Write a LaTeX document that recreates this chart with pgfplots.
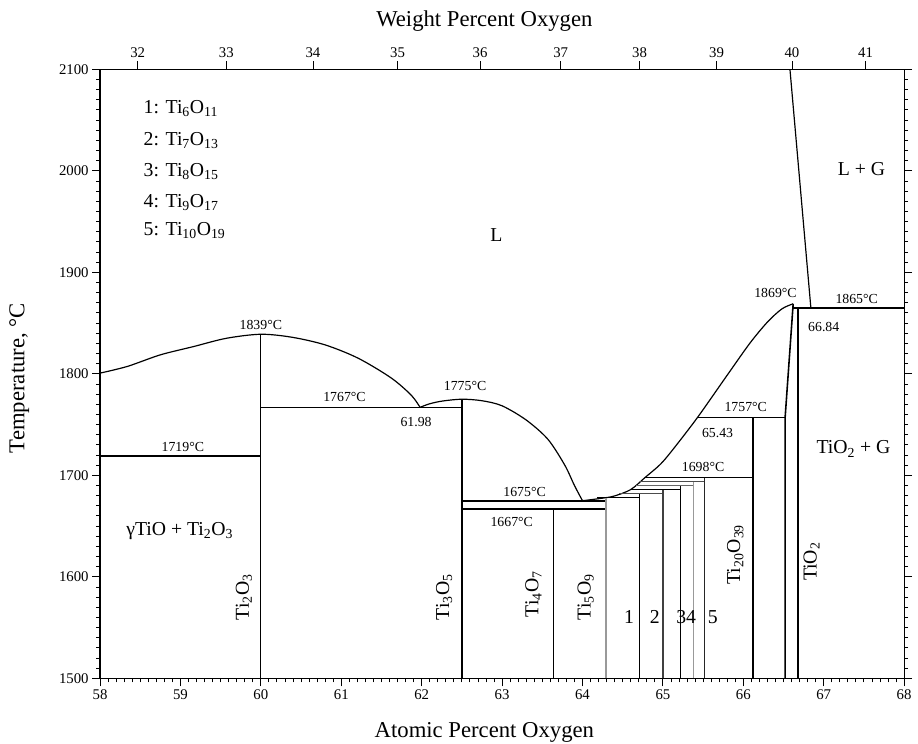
\documentclass[border=0pt]{standalone}
\usepackage{pgfplots}
\pgfplotsset{compat=1.18}
\usepackage{fontspec}
\setmainfont{Liberation Serif}

\newcommand{\lab}{\fontsize{14}{14}\selectfont}
\newcommand{\fld}{\fontsize{20}{20}\selectfont}

\begin{document}
\begin{tikzpicture}
\begin{axis}[
  name=main,
  scale only axis, width=812bp, height=615bp,
  xmin=58, xmax=68, ymin=1500, ymax=2100,
  xtick={58,59,...,68}, ytick={1500,1600,...,2100},
  minor x tick num=9, minor y tick num=9,
  xtick pos=left, ytick pos=both, yticklabel pos=left,
  tick align=outside,
  major tick length=8bp, minor tick length=4bp,
  axis line style={line width=1.3bp},
  every tick/.style={black, line width=0.9bp},
  tick label style={font=\fontsize{15}{15}\selectfont},
  /pgf/number format/assume math mode=true,
  /pgf/number format/1000 sep={},
  xlabel={Atomic Percent Oxygen},
  ylabel={Temperature, °C},
  every axis x label/.style={at={(rel axis cs:0.478,0)}, anchor=base, yshift=-60bp, font=\fontsize{23}{23}\selectfont},
  every axis y label/.style={at={(rel axis cs:0,0.493)}, xshift=-68bp, rotate=90, anchor=south, font=\fontsize{23}{23}\selectfont},
  cycle list={{black, solid, mark=none}},
  every axis plot/.append style={line width=1.2bp},
]
% liquidus, Ti2O3 side
\addplot+[smooth] coordinates {(58,1800.7) (58.34,1807.3) (58.75,1818.7) (59.16,1826.8) (59.57,1835) (60,1839) (60.39,1836) (60.8,1828.5) (61.21,1815.4) (61.62,1796) (61.87,1779) (61.98,1767)};
% liquidus over Ti3O5
\addplot+[smooth] coordinates {(61.98,1767) (62.1,1770.5) (62.26,1773.2) (62.5,1775) (62.75,1773.5) (63.0,1768.5) (63.3,1754.5) (63.57,1735.5) (63.78,1710) (63.9,1690) (64.0,1675)};
% liquidus, TiO2 side
\addplot+[smooth] coordinates {(64.0,1675) (64.2,1677) (64.39,1679.5) (64.6,1686) (64.78,1698) (64.97,1711) (65.13,1726) (65.43,1757) (65.79,1797.6) (66.08,1830) (66.3,1851) (66.48,1864) (66.62,1869)};
% L / L+G boundary
\addplot coordinates {(66.58,2100) (66.84,1865)};
% invariant lines
\addplot[line width=2.6bp] coordinates {(58,1719) (60,1719)};
\addplot coordinates {(60,1500) (60,1839)};
\addplot coordinates {(60,1767) (62.5,1767)};
\addplot[line width=2.2bp] coordinates {(62.5,1500) (62.5,1775)};
\addplot[line width=2.2bp] coordinates {(62.5,1675) (64.29,1675)};
\addplot[line width=2.2bp] coordinates {(62.5,1667) (64.29,1667)};
\addplot coordinates {(63.64,1500) (63.64,1667)};
% Magneli phases Ti5O9 ... Ti10O19
\addplot[black!40, line width=2bp] coordinates {(64.29,1500) (64.29,1678)};
\addplot coordinates {(64.18,1678) (64.71,1678)};
\addplot[line width=1.8bp] coordinates {(64.71,1500) (64.71,1682)};
\addplot[black!70] coordinates {(64.46,1682) (65.0,1682)};
\addplot[black!75] coordinates {(65.0,1500) (65.0,1686)};
\addplot coordinates {(64.6,1686) (65.22,1686)};
\addplot[line width=1.8bp] coordinates {(65.22,1500) (65.22,1690)};
\addplot[black!60] coordinates {(64.66,1690) (65.38,1690)};
\addplot[black!40] coordinates {(65.38,1500) (65.38,1694)};
\addplot[black!70] coordinates {(64.72,1694) (65.52,1694)};
\addplot[black!85] coordinates {(65.52,1500) (65.52,1698)};
\addplot coordinates {(64.78,1698) (66.12,1698)};
% Ti20O39 and TiO2
\addplot coordinates {(66.12,1500) (66.12,1757)};
\addplot coordinates {(65.43,1757) (66.52,1757)};
\addplot[line width=1.6bp] coordinates {(66.52,1500) (66.52,1757) (66.62,1869)};
\addplot coordinates {(66.68,1500) (66.68,1865)};
\addplot[line width=2.4bp] coordinates {(66.62,1865) (68,1865)};

% temperatures and compositions
\node[font=\lab] at (axis cs:60.0,1848) {1839°C};
\node[font=\lab] at (axis cs:61.04,1777) {1767°C};
\node[font=\lab] at (axis cs:61.93,1753) {61.98};
\node[font=\lab] at (axis cs:62.54,1788) {1775°C};
\node[font=\lab] at (axis cs:59.03,1728) {1719°C};
\node[font=\lab] at (axis cs:63.28,1684) {1675°C};
\node[font=\lab] at (axis cs:63.12,1654) {1667°C};
\node[font=\lab] at (axis cs:65.5,1708) {1698°C};
\node[font=\lab] at (axis cs:66.03,1767) {1757°C};
\node[font=\lab] at (axis cs:65.68,1742) {65.43};
\node[font=\lab] at (axis cs:66.40,1880) {1869°C};
\node[font=\lab] at (axis cs:67.41,1874) {1865°C};
\node[font=\lab] at (axis cs:67.0,1846) {66.84};
% phase fields
\node[font=\fld] at (axis cs:62.93,1937) {L};
\node[font=\fld] at (axis cs:67.47,2002) {L + G};
\node[font=\fld] at (axis cs:67.37,1726) {TiO\textsubscript{2} + G};
\node[font=\fld] at (axis cs:58.99,1645) {γTiO + Ti\textsubscript{2}O\textsubscript{3}};
\node[font=\fld, rotate=90] at (axis cs:59.79,1580) {Ti\textsubscript{2}O\textsubscript{3}};
\node[font=\fld, rotate=90] at (axis cs:62.28,1580) {Ti\textsubscript{3}O\textsubscript{5}};
\node[font=\fld, rotate=90] at (axis cs:63.39,1583) {Ti\textsubscript{4}O\textsubscript{7}};
\node[font=\fld, rotate=90] at (axis cs:64.04,1580) {Ti\textsubscript{5}O\textsubscript{9}};
\node[font=\fld, rotate=90] at (axis cs:65.9,1622) {Ti\textsubscript{20}O\textsubscript{39}};
\node[font=\fld, rotate=90] at (axis cs:66.85,1615) {TiO\textsubscript{2}};
\node[font=\fld] at (axis cs:64.58,1560) {1};
\node[font=\fld] at (axis cs:64.90,1560) {2};
\node[font=\fld] at (axis cs:65.29,1560) {34};
\node[font=\fld] at (axis cs:65.62,1560) {5};
% key to the numbered phases
\node[font=\fld, anchor=west] at (axis cs:58.5,2061) {1: Ti\textsubscript{6}O\textsubscript{11}};
\node[font=\fld, anchor=west] at (axis cs:58.5,2030) {2: Ti\textsubscript{7}O\textsubscript{13}};
\node[font=\fld, anchor=west] at (axis cs:58.5,1999) {3: Ti\textsubscript{8}O\textsubscript{15}};
\node[font=\fld, anchor=west] at (axis cs:58.5,1969) {4: Ti\textsubscript{9}O\textsubscript{17}};
\node[font=\fld, anchor=west] at (axis cs:58.5,1941) {5: Ti\textsubscript{10}O\textsubscript{19}};
\end{axis}

% weight percent scale along the top
\begin{axis}[
  at={(main.south west)}, anchor=south west,
  scale only axis, width=812bp, height=615bp,
  xmin=58, xmax=68, ymin=1500, ymax=2100,
  axis x line*=top, axis y line=none,
  xtick={58.469,59.571,60.648,61.700,62.726,63.729,64.709,65.668,66.605,67.521},
  xticklabels={32,33,34,35,36,37,38,39,40,41},
  minor x tick num=9,
  tick align=outside,
  major tick length=8bp, minor tick length=4bp,
  axis line style={line width=1.3bp},
  every tick/.style={black, line width=0.9bp},
  tick label style={font=\fontsize{15}{15}\selectfont},
  xlabel={Weight Percent Oxygen},
  every axis x label/.style={at={(rel axis cs:0.478,1)}, anchor=base, yshift=43bp, font=\fontsize{23}{23}\selectfont},
]
\end{axis}
\pgfresetboundingbox
\path ([xshift=-101bp,yshift=-66bp]main.south west) rectangle ([xshift=14bp,yshift=70bp]main.north east);
\end{tikzpicture}
\end{document}
